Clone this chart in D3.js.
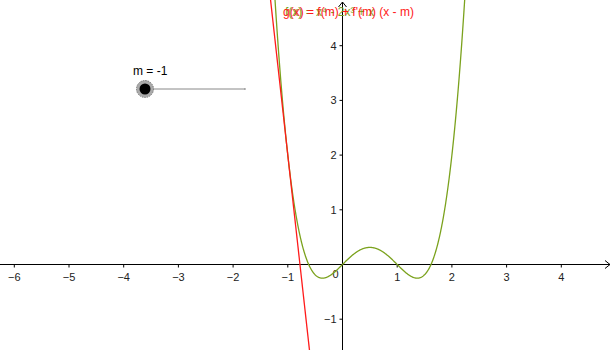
<!DOCTYPE html>
<html>
<head>
<meta charset="utf-8">
<script src="https://cdn.jsdelivr.net/npm/d3@7"></script>
<style>
  body { margin: 0; background: #fff; }
  text { font-family: "Liberation Sans", Arial, sans-serif; }
</style>
</head>
<body>
<svg id="plot" width="613" height="350"></svg>
<script>
// f(x) = x^4 - 2x^3 + x, tangent at m
const coeffs = [1, -2, 0, 1, 0];   // x^4 .. x^0
const m = -1;
const xTicks = [-6, -5, -4, -3, -2, -1, 1, 2, 3, 4];
const yTicks = [-1, 1, 2, 3, 4];
const fLabel = "f(x) = x⁴ - 2x³ + x";
const gLabel = "g(x) = f(m) + f'(m) (x - m)";
const sliderLabel = "m = -1";
const sliderRange = [-1, 5];

const f = x => coeffs.reduce((a, c) => a * x + c, 0);
const fp = x => 4 * x * x * x - 6 * x * x + 1;
const g = x => f(m) + fp(m) * (x - m);

const width = 613, height = 350;
const unit = 54.7, ox = 342.5, oy = 264.5;

const x = d3.scaleLinear().domain([-ox / unit, (width - ox) / unit]).range([0, width]);
const y = d3.scaleLinear().domain([-(height - oy) / unit, oy / unit]).range([height, 0]);

const svg = d3.select("#plot");

// axes
svg.append("line").attr("x1", 0).attr("x2", width - 3).attr("y1", y(0)).attr("y2", y(0))
  .attr("stroke", "#000").attr("stroke-width", 1);
svg.append("line").attr("x1", x(0)).attr("x2", x(0)).attr("y1", height).attr("y2", 2)
  .attr("stroke", "#000").attr("stroke-width", 1);
svg.append("path").attr("d", `M${width - 8},${y(0) - 4}L${width - 3},${y(0)}L${width - 8},${y(0) + 4}`)
  .attr("fill", "none").attr("stroke", "#000");
svg.append("path").attr("d", `M${x(0) - 4},${7}L${x(0)},${2}L${x(0) + 4},${7}`)
  .attr("fill", "none").attr("stroke", "#000");

const xt = svg.append("g").selectAll("g").data(xTicks).enter().append("g");
xt.append("line").attr("x1", d => x(d)).attr("x2", d => x(d))
  .attr("y1", y(0)).attr("y2", y(0) + 3).attr("stroke", "#000");
xt.append("text").attr("x", d => x(d)).attr("y", y(0) + 16)
  .attr("text-anchor", "middle").attr("font-size", 11).attr("fill", "#222")
  .text(d => d < 0 ? "\u2212" + Math.abs(d) : d);

const yt = svg.append("g").selectAll("g").data(yTicks).enter().append("g");
yt.append("line").attr("x1", x(0) - 3).attr("x2", x(0))
  .attr("y1", d => y(d)).attr("y2", d => y(d)).attr("stroke", "#000");
yt.append("text").attr("x", x(0) - 6).attr("y", d => y(d) + 4)
  .attr("text-anchor", "end").attr("font-size", 11).attr("fill", "#222")
  .text(d => d < 0 ? "\u2212" + Math.abs(d) : d);
svg.append("text").attr("x", x(0) - 4).attr("y", y(0) + 13)
  .attr("text-anchor", "end").attr("font-size", 11).attr("fill", "#222").text("0");

// curves
const xs = d3.range(x.domain()[0], x.domain()[1], 0.005);
const clip = svg.append("clipPath").attr("id", "clip").append("rect")
  .attr("width", width).attr("height", height);
const line = d3.line().x(d => x(d[0])).y(d => y(d[1]));

svg.append("path").datum(xs.map(v => [v, f(v)]).filter(d => d[1] < 6 && d[1] > -3))
  .attr("clip-path", "url(#clip)")
  .attr("d", line).attr("fill", "none").attr("stroke", "#7ba21d").attr("stroke-width", 1.3);

svg.append("path").datum(xs.map(v => [v, g(v)]).filter(d => d[1] < 6 && d[1] > -3))
  .attr("clip-path", "url(#clip)")
  .attr("d", line).attr("fill", "none").attr("stroke", "#ff1a1a").attr("stroke-width", 1.3);

// labels
svg.append("text").attr("x", 285).attr("y", 16).attr("font-size", 12)
  .attr("fill", "#7ba21d").text(fLabel);
svg.append("text").attr("x", 283).attr("y", 16).attr("font-size", 12)
  .attr("fill", "#ff1a1a").text(gLabel);

// slider
const s = d3.scaleLinear().domain(sliderRange).range([145, 245]);
svg.append("line").attr("x1", s(sliderRange[0])).attr("x2", s(sliderRange[1]))
  .attr("y1", 89).attr("y2", 89).attr("stroke", "#888").attr("stroke-width", 1);
svg.append("line").attr("x1", s(sliderRange[1])).attr("x2", s(sliderRange[1]))
  .attr("y1", 88).attr("y2", 90).attr("stroke", "#888");
svg.append("circle").attr("cx", s(m)).attr("cy", 89).attr("r", 8.5)
  .attr("fill", "#aaa").attr("stroke", "#777").attr("stroke-width", 1).attr("stroke-dasharray", "1.5,1");
svg.append("circle").attr("cx", s(m)).attr("cy", 89).attr("r", 5.5).attr("fill", "#000");
svg.append("text").attr("x", 133).attr("y", 75).attr("font-size", 12).attr("fill", "#000")
  .text(sliderLabel);
</script>
</body>
</html>
